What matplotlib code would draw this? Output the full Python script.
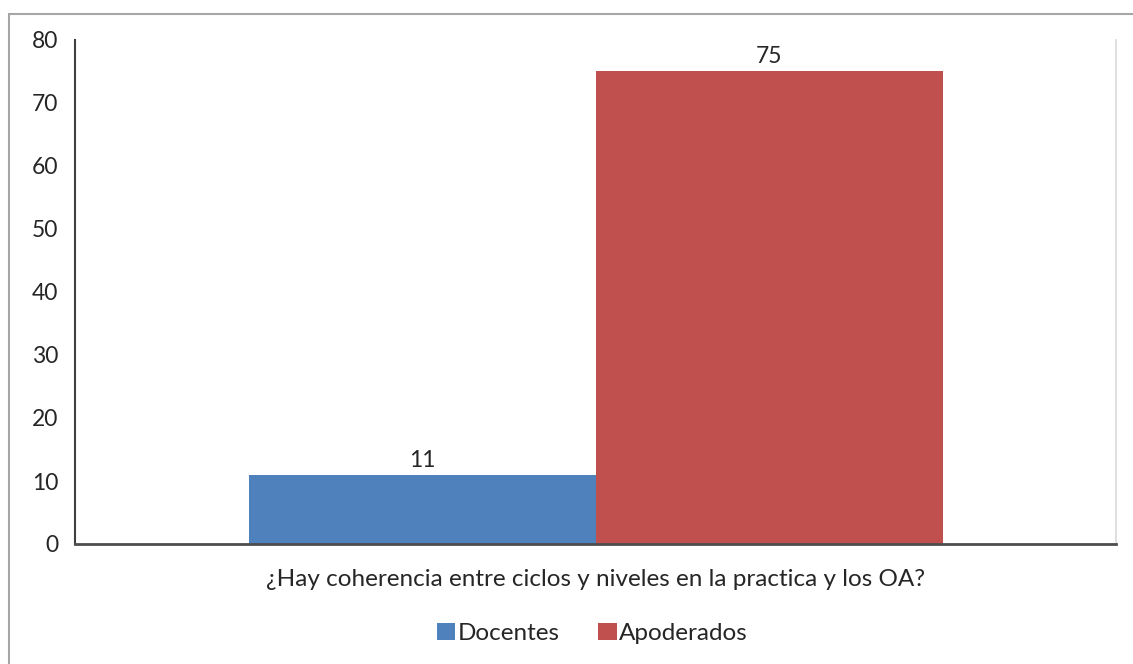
import matplotlib.pyplot as plt
from matplotlib.patches import Rectangle

plt.rcParams['font.family'] = ['Lato', 'DejaVu Sans']

# datos
pregunta = ['¿Hay coherencia entre ciclos y niveles en la practica y los OA?']
series = ['Docentes', 'Apoderados']
valores = [11, 75]
colores = ['#4F81BD', '#C0504D']
yticks = [0, 10, 20, 30, 40, 50, 60, 70, 80]

fs = 17.5
fig = plt.figure(figsize=(11.33, 6.64), dpi=100)
ax = fig.add_axes([75/1133, 1-544/664, (1116-75)/1133, (544-40)/664])

# borde exterior del grafico
fig.patches.append(Rectangle((9/1133, -0.1), 1.2, 1-14/664+0.1,
                             transform=fig.transFigure, fill=False,
                             edgecolor='#A6A6A6', linewidth=1.5))

ancho = 1/3
offsets = [-ancho/2, ancho/2]
for i in range(len(series)):
    b = ax.bar(offsets[i], valores[i], width=ancho, color=colores[i],
               label=series[i], zorder=2)
    ax.bar_label(b, labels=[str(valores[i])], padding=3, fontsize=fs - 1,
                 color='#262626')

ax.set_xlim(-0.5, 0.5)
ax.set_ylim(0, 80)
ax.set_yticks(yticks)
ax.set_xticks([0])
ax.set_xticklabels(pregunta, fontsize=fs, color='#262626')
ax.tick_params(axis='y', length=0, pad=12, labelsize=fs - 1, labelcolor='#262626')
ax.tick_params(axis='x', length=0, pad=18)

ax.spines['top'].set_visible(False)
ax.spines['right'].set_color('#D9D9D9')
ax.spines['right'].set_linewidth(1.2)
ax.spines['left'].set_color('#404040')
ax.spines['left'].set_linewidth(1.5)
ax.spines['bottom'].set_color('#4D4D4D')
ax.spines['bottom'].set_linewidth(2)

ax.legend(loc='center', bbox_to_anchor=(0.497, -0.177), ncol=2, frameon=False,
          fontsize=fs, handlelength=0.75, handleheight=0.75, handletextpad=0.1,
          columnspacing=1.6, labelcolor='#262626')

fig.savefig('out.png', dpi=100)
